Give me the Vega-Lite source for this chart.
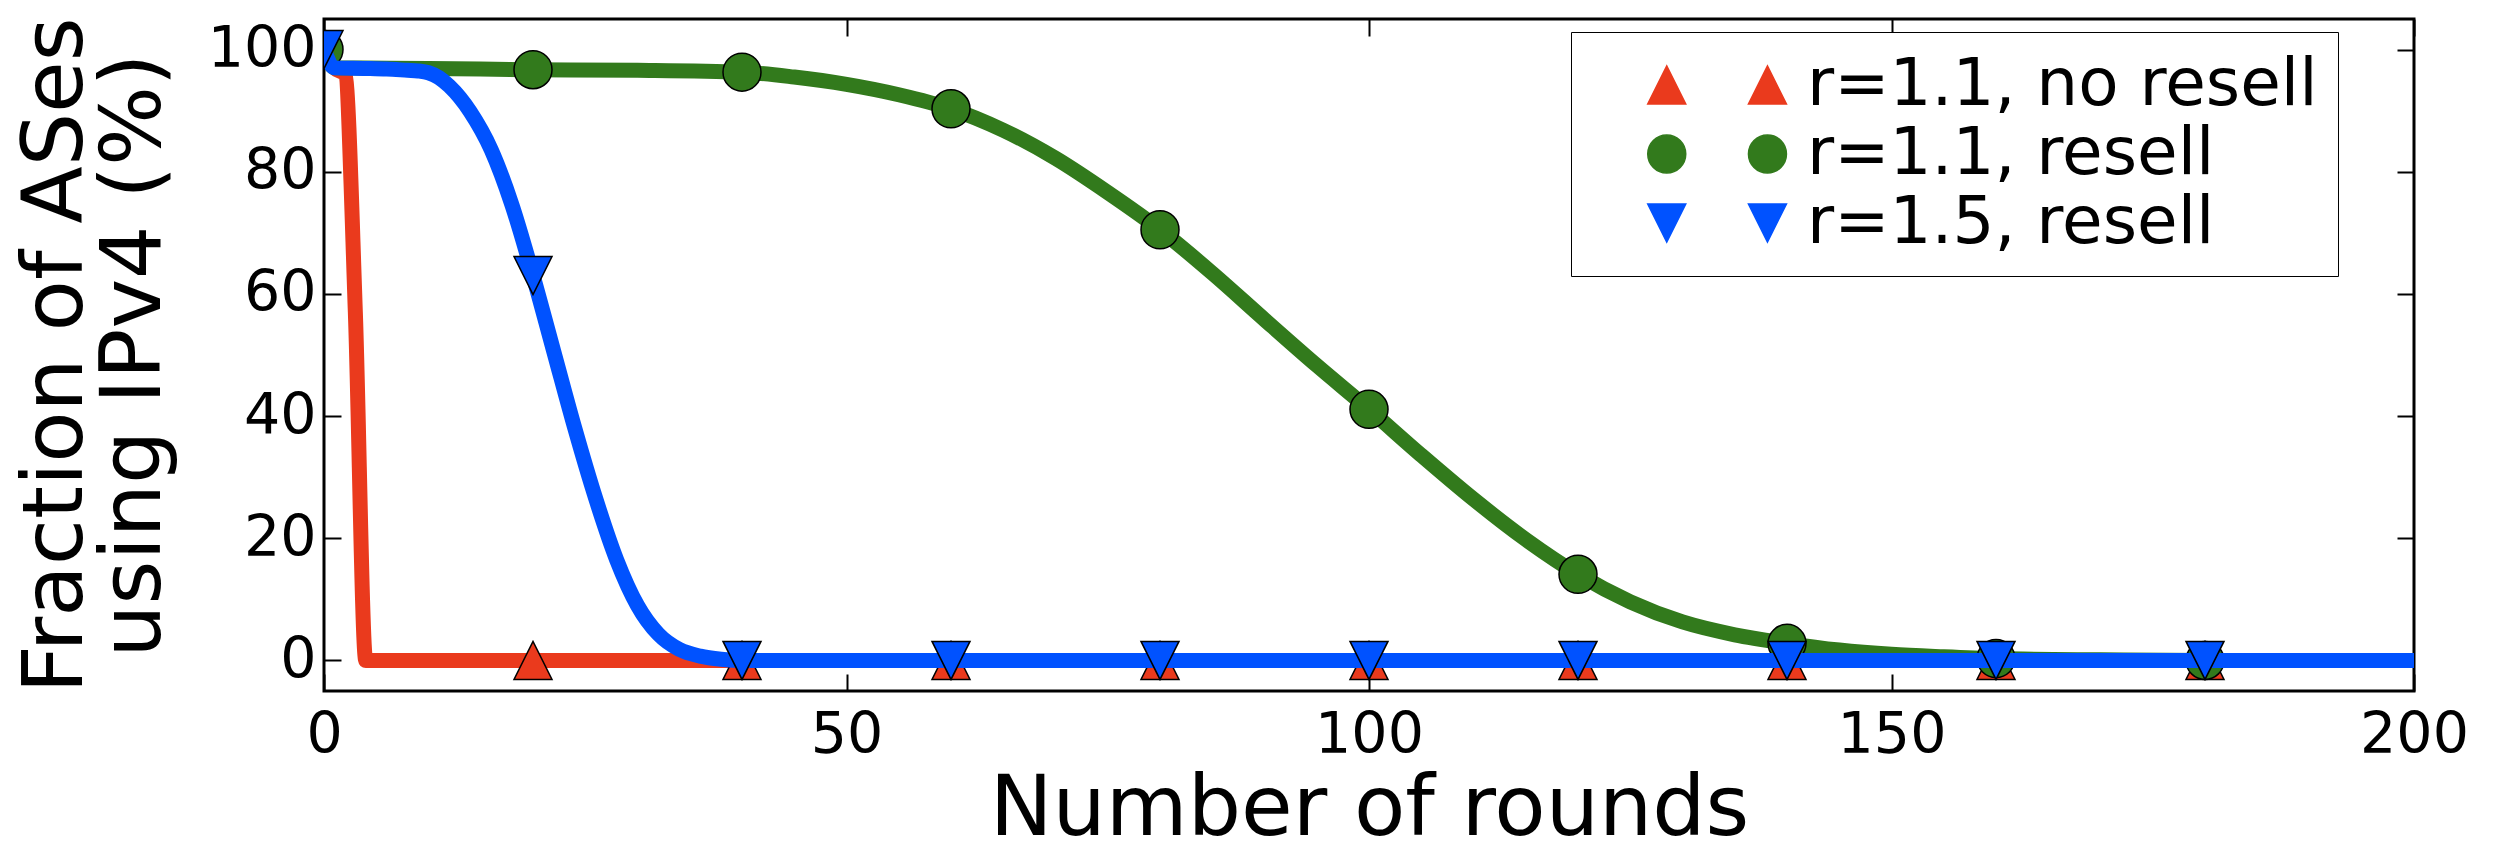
{
  "$schema": "https://vega.github.io/schema/vega-lite/v6.json",
  "width": 2090,
  "height": 672,
  "autosize": "none",
  "padding": {"left": 324, "top": 19, "right": 84, "bottom": 158},
  "background": "white",
  "datasets": {
    "d": [
      {"series": "r=1.1, no resell", "x": 0, "y": 100},
      {"series": "r=1.1, no resell", "x": 1, "y": 97},
      {"series": "r=1.1, no resell", "x": 2, "y": 96},
      {"series": "r=1.1, no resell", "x": 3, "y": 57},
      {"series": "r=1.1, no resell", "x": 4, "y": 0},
      {"series": "r=1.1, no resell", "x": 20, "y": 0},
      {"series": "r=1.1, no resell", "x": 40, "y": 0},
      {"series": "r=1.1, no resell", "x": 60, "y": 0},
      {"series": "r=1.1, no resell", "x": 80, "y": 0},
      {"series": "r=1.1, no resell", "x": 100, "y": 0},
      {"series": "r=1.1, no resell", "x": 120, "y": 0},
      {"series": "r=1.1, no resell", "x": 140, "y": 0},
      {"series": "r=1.1, no resell", "x": 160, "y": 0},
      {"series": "r=1.1, no resell", "x": 180, "y": 0},
      {"series": "r=1.1, no resell", "x": 200, "y": 0},
      {"series": "r=1.1, resell", "x": 0, "y": 100},
      {"series": "r=1.1, resell", "x": 1, "y": 97},
      {"series": "r=1.1, resell", "x": 10, "y": 96.9},
      {"series": "r=1.1, resell", "x": 20, "y": 96.7},
      {"series": "r=1.1, resell", "x": 30, "y": 96.6},
      {"series": "r=1.1, resell", "x": 40, "y": 96.3},
      {"series": "r=1.1, resell", "x": 45, "y": 95.5},
      {"series": "r=1.1, resell", "x": 50, "y": 94.3},
      {"series": "r=1.1, resell", "x": 55, "y": 92.6},
      {"series": "r=1.1, resell", "x": 60, "y": 90.3},
      {"series": "r=1.1, resell", "x": 65, "y": 86.8},
      {"series": "r=1.1, resell", "x": 70, "y": 82.2},
      {"series": "r=1.1, resell", "x": 75, "y": 76.6},
      {"series": "r=1.1, resell", "x": 80, "y": 70.5},
      {"series": "r=1.1, resell", "x": 85, "y": 63.4},
      {"series": "r=1.1, resell", "x": 90, "y": 55.8},
      {"series": "r=1.1, resell", "x": 95, "y": 48.3},
      {"series": "r=1.1, resell", "x": 100, "y": 41.1},
      {"series": "r=1.1, resell", "x": 105, "y": 33.6},
      {"series": "r=1.1, resell", "x": 110, "y": 26.4},
      {"series": "r=1.1, resell", "x": 115, "y": 19.8},
      {"series": "r=1.1, resell", "x": 120, "y": 14.1},
      {"series": "r=1.1, resell", "x": 125, "y": 9.6},
      {"series": "r=1.1, resell", "x": 130, "y": 6.3},
      {"series": "r=1.1, resell", "x": 135, "y": 4.2},
      {"series": "r=1.1, resell", "x": 140, "y": 2.8},
      {"series": "r=1.1, resell", "x": 145, "y": 1.7},
      {"series": "r=1.1, resell", "x": 150, "y": 1.0},
      {"series": "r=1.1, resell", "x": 155, "y": 0.6},
      {"series": "r=1.1, resell", "x": 160, "y": 0.3},
      {"series": "r=1.1, resell", "x": 170, "y": 0.1},
      {"series": "r=1.1, resell", "x": 180, "y": 0},
      {"series": "r=1.1, resell", "x": 190, "y": 0},
      {"series": "r=1.1, resell", "x": 200, "y": 0},
      {"series": "r=1.5, resell", "x": 0, "y": 100},
      {"series": "r=1.5, resell", "x": 1, "y": 97},
      {"series": "r=1.5, resell", "x": 4, "y": 96.9},
      {"series": "r=1.5, resell", "x": 6, "y": 96.8},
      {"series": "r=1.5, resell", "x": 8, "y": 96.6},
      {"series": "r=1.5, resell", "x": 9, "y": 96.5},
      {"series": "r=1.5, resell", "x": 10, "y": 96.2},
      {"series": "r=1.5, resell", "x": 11, "y": 95.4},
      {"series": "r=1.5, resell", "x": 12, "y": 94.0},
      {"series": "r=1.5, resell", "x": 14, "y": 89.8},
      {"series": "r=1.5, resell", "x": 16, "y": 83.6},
      {"series": "r=1.5, resell", "x": 18, "y": 74.5},
      {"series": "r=1.5, resell", "x": 20, "y": 63},
      {"series": "r=1.5, resell", "x": 22, "y": 50.5},
      {"series": "r=1.5, resell", "x": 24, "y": 38},
      {"series": "r=1.5, resell", "x": 26, "y": 26.5},
      {"series": "r=1.5, resell", "x": 28, "y": 16.5},
      {"series": "r=1.5, resell", "x": 30, "y": 9},
      {"series": "r=1.5, resell", "x": 32, "y": 4.3},
      {"series": "r=1.5, resell", "x": 34, "y": 1.8},
      {"series": "r=1.5, resell", "x": 36, "y": 0.7},
      {"series": "r=1.5, resell", "x": 38, "y": 0.2},
      {"series": "r=1.5, resell", "x": 40, "y": 0},
      {"series": "r=1.5, resell", "x": 60, "y": 0},
      {"series": "r=1.5, resell", "x": 80, "y": 0},
      {"series": "r=1.5, resell", "x": 100, "y": 0},
      {"series": "r=1.5, resell", "x": 120, "y": 0},
      {"series": "r=1.5, resell", "x": 140, "y": 0},
      {"series": "r=1.5, resell", "x": 160, "y": 0},
      {"series": "r=1.5, resell", "x": 180, "y": 0},
      {"series": "r=1.5, resell", "x": 200, "y": 0}
    ]
  },
  "data": {"name": "d"},
  "encoding": {
    "x": {"field": "x", "type": "quantitative", "scale": {"domain": [0, 200], "nice": false, "zero": false}, "axis": null},
    "y": {"field": "y", "type": "quantitative", "scale": {"domain": [-5, 105], "nice": false, "zero": false}, "axis": null},
    "color": {"field": "series", "type": "nominal", "scale": {"domain": ["r=1.1, no resell", "r=1.1, resell", "r=1.5, resell"], "range": ["#ea3a1d", "#327a1c", "#0052ff"]},
      "legend": {
        "title": null, "orient": "none", "legendX": 1247, "legendY": 13, "padding": 20,
        "strokeColor": "black", "fillColor": "white", "cornerRadius": 0,
        "labelFontSize": 66, "labelFont": "DejaVu Sans", "labelColor": "black", "labelLimit": 0,
        "symbolSize": 1444, "labelOffset": 150, "rowPadding": 3,
        "symbolStrokeColor": "black", "symbolStrokeWidth": 1.5, "symbolOpacity": 1,
        "encode": {"legend": {"strokeWidth": {"value": 3}}}
      }}
  },
  "resolve": {"axis": {"x": "independent", "y": "independent"}},
  "layer": [
    {
      "transform": [{"filter": "datum.series === 'r=1.1, no resell'"}],
      "mark": {"type": "line", "strokeWidth": 15, "interpolate": "monotone", "clip": true, "strokeJoin": "round"},
      "encoding": {
        "x": {"field": "x", "type": "quantitative", "scale": {"domain": [0, 200], "nice": false, "zero": false},
          "axis": {"orient": "bottom", "values": [0, 50, 100, 150, 200], "title": "Number of rounds", "titleFontSize": 84, "titleFontWeight": "normal", "titleBaseline": "alphabetic", "titleY": 143, "titleX": 1045, "titleAnchor": "middle", "titleAlign": "center"}},
        "y": {"field": "y", "type": "quantitative", "scale": {"domain": [-5, 105], "nice": false, "zero": false},
          "axis": {"orient": "left", "values": [0, 20, 40, 60, 80, 100], "title": ["Fraction of ASes", "using IPv4 (%)"], "titleFontSize": 84, "titleFontWeight": "normal", "titleAngle": -90, "titleAlign": "center", "titleBaseline": "alphabetic", "titleX": -243, "titleY": 336, "titleLineHeight": 78, "labelPadding": 25}}
      }
    },
    {
      "transform": [{"filter": "datum.series === 'r=1.1, no resell' && datum.x % 20 === 0 && datum.x < 200"}],
      "mark": {"type": "point", "shape": "M -1 1 L 1 1 L 0 -1 Z", "filled": true, "size": 1444, "stroke": "black", "strokeWidth": 1.5, "opacity": 1, "clip": true}
    },
    {
      "transform": [{"filter": "datum.series === 'r=1.1, resell'"}],
      "mark": {"type": "line", "strokeWidth": 15, "interpolate": "monotone", "clip": true, "strokeJoin": "round"}
    },
    {
      "transform": [{"filter": "datum.series === 'r=1.1, resell' && datum.x % 20 === 0 && datum.x < 200"}],
      "mark": {"type": "point", "shape": "circle", "filled": true, "size": 1444, "stroke": "black", "strokeWidth": 1.5, "opacity": 1, "clip": true}
    },
    {
      "transform": [{"filter": "datum.series === 'r=1.5, resell'"}],
      "mark": {"type": "line", "strokeWidth": 15, "interpolate": "monotone", "clip": true, "strokeJoin": "round"}
    },
    {
      "transform": [{"filter": "datum.series === 'r=1.5, resell' && datum.x % 20 === 0 && datum.x < 200"}],
      "mark": {"type": "point", "shape": "M -1 -1 L 1 -1 L 0 1 Z", "filled": true, "size": 1444, "stroke": "black", "strokeWidth": 1.5, "opacity": 1, "clip": true},
      "encoding": {
        "x": {"field": "x", "type": "quantitative", "scale": {"domain": [0, 200], "nice": false, "zero": false},
          "axis": {"orient": "top", "values": [0, 50, 100, 150, 200], "labels": false, "title": null}},
        "y": {"field": "y", "type": "quantitative", "scale": {"domain": [-5, 105], "nice": false, "zero": false},
          "axis": {"orient": "right", "values": [0, 20, 40, 60, 80, 100], "labels": false, "title": null}}
      }
    },
    {
      "transform": [{"filter": "false"}],
      "mark": {"type": "point", "filled": true, "size": 1444, "stroke": "black", "strokeWidth": 1.5, "opacity": 1},
      "encoding": {
        "shape": {"field": "series", "type": "nominal",
          "scale": {"domain": ["r=1.1, no resell", "r=1.1, resell", "r=1.5, resell"],
            "range": ["M 1.25 1 L 3.25 1 L 2.25 -1 Z M 6.55 1 L 8.55 1 L 7.55 -1 Z", "M 1.25 0 A 1 1 0 1 0 3.25 0 A 1 1 0 1 0 1.25 0 Z M 6.55 0 A 1 1 0 1 0 8.55 0 A 1 1 0 1 0 6.55 0 Z", "M 1.25 -1 L 3.25 -1 L 2.25 1 Z M 6.55 -1 L 8.55 -1 L 7.55 1 Z"]},
          "legend": {
            "title": null, "orient": "none", "legendX": 1247, "legendY": 13, "padding": 20,
            "strokeColor": "black", "fillColor": "white", "cornerRadius": 0,
            "labelFontSize": 66, "labelFont": "DejaVu Sans", "labelColor": "black", "labelLimit": 0,
            "symbolSize": 1444, "labelOffset": 150, "rowPadding": 3,
            "symbolStrokeColor": "black", "symbolStrokeWidth": 1.5, "symbolOpacity": 1,
            "encode": {"legend": {"strokeWidth": {"value": 3}}}
          }}
      }
    }
  ],
  "config": {
    "font": "DejaVu Sans",
    "view": {"stroke": "black", "strokeWidth": 3},
    "axis": {
      "domain": false, "grid": false,
      "ticks": true, "tickSize": -17, "tickWidth": 2, "tickColor": "black",
      "labelFont": "DejaVu Sans", "labelFontSize": 57, "labelColor": "black", "labelPadding": 33,
      "labelFlush": false, "labelOverlap": false, "labelBound": false,
      "titleFont": "DejaVu Sans", "titleColor": "black"
    }
  }
}
